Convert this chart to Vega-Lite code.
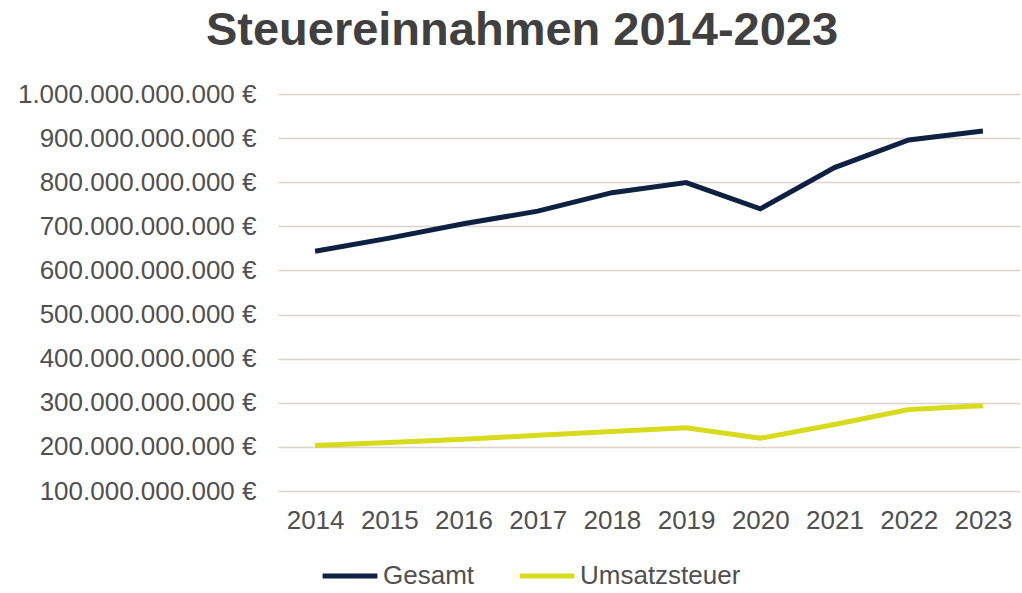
{
  "$schema": "https://vega.github.io/schema/vega-lite/v6.json",
  "autosize": {"type": "none"},
  "padding": {"left": 278, "top": 94, "right": 2, "bottom": 102},
  "width": 742,
  "height": 397,
  "background": "#ffffff",
  "title": {
    "text": "Steuereinnahmen 2014-2023",
    "font": "Liberation Sans",
    "fontSize": 47,
    "fontWeight": "bold",
    "color": "#404040",
    "anchor": "middle",
    "dx": -127,
    "offset": 26
  },
  "data": {
    "values": [
      {"Jahr": "2014", "Serie": "Gesamt", "Wert": 643600000000},
      {"Jahr": "2015", "Serie": "Gesamt", "Wert": 673300000000},
      {"Jahr": "2016", "Serie": "Gesamt", "Wert": 705800000000},
      {"Jahr": "2017", "Serie": "Gesamt", "Wert": 734500000000},
      {"Jahr": "2018", "Serie": "Gesamt", "Wert": 776300000000},
      {"Jahr": "2019", "Serie": "Gesamt", "Wert": 799300000000},
      {"Jahr": "2020", "Serie": "Gesamt", "Wert": 739700000000},
      {"Jahr": "2021", "Serie": "Gesamt", "Wert": 833200000000},
      {"Jahr": "2022", "Serie": "Gesamt", "Wert": 895800000000},
      {"Jahr": "2023", "Serie": "Gesamt", "Wert": 915900000000},
      {"Jahr": "2014", "Serie": "Umsatzsteuer", "Wert": 203100000000},
      {"Jahr": "2015", "Serie": "Umsatzsteuer", "Wert": 209900000000},
      {"Jahr": "2016", "Serie": "Umsatzsteuer", "Wert": 217100000000},
      {"Jahr": "2017", "Serie": "Umsatzsteuer", "Wert": 226400000000},
      {"Jahr": "2018", "Serie": "Umsatzsteuer", "Wert": 235000000000},
      {"Jahr": "2019", "Serie": "Umsatzsteuer", "Wert": 243300000000},
      {"Jahr": "2020", "Serie": "Umsatzsteuer", "Wert": 219500000000},
      {"Jahr": "2021", "Serie": "Umsatzsteuer", "Wert": 250800000000},
      {"Jahr": "2022", "Serie": "Umsatzsteuer", "Wert": 284900000000},
      {"Jahr": "2023", "Serie": "Umsatzsteuer", "Wert": 293000000000}
    ]
  },
  "mark": {"type": "line", "strokeWidth": 5, "strokeCap": "butt", "strokeJoin": "miter"},
  "encoding": {
    "x": {
      "field": "Jahr",
      "type": "ordinal",
      "scale": {"type": "point", "padding": 0.5},
      "axis": {
        "title": null,
        "labelAngle": 0,
        "labelFont": "Liberation Sans",
        "labelFontSize": 26,
        "labelColor": "#505050",
        "labelPadding": 16,
        "ticks": false,
        "domain": false,
        "grid": false
      }
    },
    "y": {
      "field": "Wert",
      "type": "quantitative",
      "scale": {"domain": [100000000000, 1000000000000], "nice": false, "zero": false},
      "axis": {
        "title": null,
        "values": [100000000000, 200000000000, 300000000000, 400000000000, 500000000000, 600000000000, 700000000000, 800000000000, 900000000000, 1000000000000],
        "labelExpr": "replace(format(datum.value, ',d'), regexp(',', 'g'), '.') + ' €'",
        "labelFont": "Liberation Sans",
        "labelFontSize": 26,
        "labelColor": "#505050",
        "labelPadding": 22,
        "labelLimit": 400,
        "ticks": false,
        "domain": false,
        "grid": true,
        "gridColor": "#dcd3cc",
        "gridWidth": 1.5
      }
    },
    "color": {
      "field": "Serie",
      "type": "nominal",
      "scale": {"domain": ["Gesamt", "Umsatzsteuer"], "range": ["#0f2140", "#d8db1c"]},
      "legend": {
        "title": null,
        "orient": "none",
        "direction": "horizontal",
        "legendX": 42,
        "legendY": 452,
        "symbolType": "stroke",
        "symbolSize": 3000,
        "symbolStrokeWidth": 5,
        "labelFont": "Liberation Sans",
        "labelFontSize": 26,
        "labelColor": "#505050",
        "labelOffset": 3,
        "labelLimit": 300,
        "columnPadding": 34
      }
    }
  },
  "config": {"view": {"stroke": null}}
}
